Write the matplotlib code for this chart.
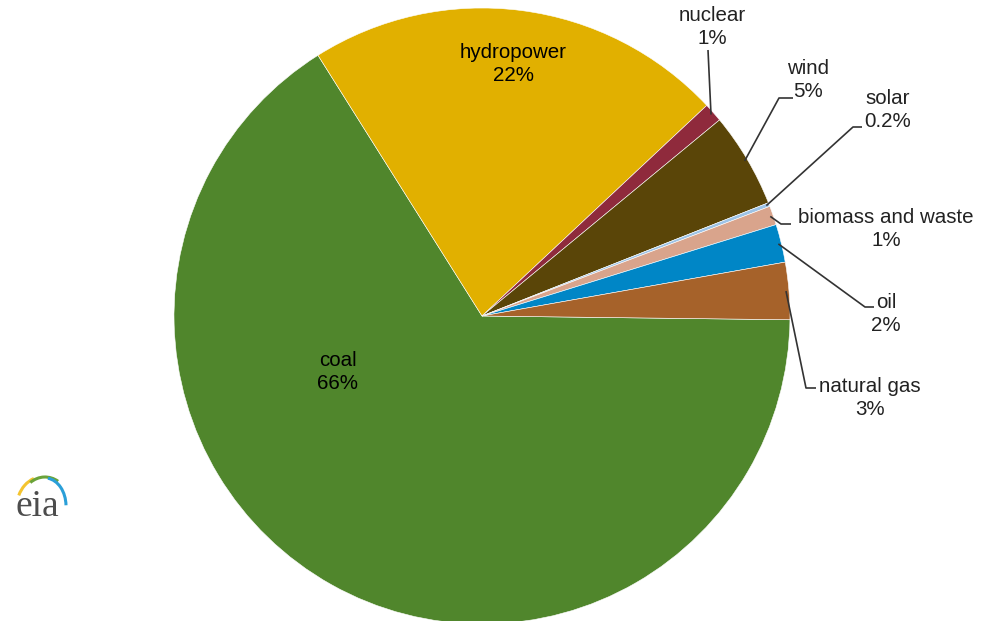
import numpy as np
import matplotlib
matplotlib.use('Agg')
import matplotlib.pyplot as plt
from matplotlib.patches import Arc

# data
sources = ["coal", "hydropower", "nuclear", "wind", "solar",
           "biomass and waste", "oil", "natural gas"]
shares = [66, 22, 1, 5, 0.2, 1, 2, 3]
share_labels = ["66%", "22%", "1%", "5%", "0.2%", "1%", "2%", "3%"]
colors = ["#50862c", "#e1b000", "#8f2a3c", "#5a4508", "#9dc3e6",
          "#d9a48c", "#0086c6", "#a6622a"]

W, H = 984, 621
plt.rcParams['font.family'] = ['Liberation Sans', 'DejaVu Sans']
fig = plt.figure(figsize=(W / 100, H / 100), dpi=100)
ax = fig.add_axes([0, 0, 1, 1])

cx, cy, R = 482, H - 316, 308
wedges, _ = ax.pie(shares, colors=colors, startangle=-0.7, counterclock=False,
                   center=(cx, cy), radius=R,
                   wedgeprops=dict(edgecolor="white", linewidth=0.4))
ax.set_xlim(0, W)
ax.set_ylim(0, H)
ax.set_aspect('equal')
ax.axis('off')

fs = 14.8
ls = 1.3
# labels inside
inside = {"coal": (338, 372), "hydropower": (513, 64)}
for name, (x, y) in inside.items():
    i = sources.index(name)
    ax.text(x, H - y, name + "\n" + share_labels[i], ha="center", va="center",
            fontsize=fs, color="black", linespacing=ls)

# labels outside: text centre, elbow point (pixel coords from top)
outside = {
    "nuclear": ((712, 27), [(708, 50)]),
    "wind": ((808, 80), [(779, 98), (793, 98)]),
    "solar": ((888, 110), [(853, 127), (862, 127)]),
    "biomass and waste": ((886, 229), [(781, 224), (791, 224)]),
    "oil": ((886, 314), [(865, 307), (874, 307)]),
    "natural gas": ((870, 398), [(806, 388), (816, 388)]),
}
for name, ((tx, ty), elbow) in outside.items():
    i = sources.index(name)
    w = wedges[i]
    mid = np.deg2rad((w.theta1 + w.theta2) / 2)
    r0 = R - 3
    xs = [cx + r0 * np.cos(mid)] + [p[0] for p in elbow]
    ys = [cy + r0 * np.sin(mid)] + [H - p[1] for p in elbow]
    ax.plot(xs, ys, color="#333333", lw=1.2, solid_capstyle="butt")
    ax.text(tx, H - ty, name + "\n" + share_labels[i], ha="center", va="center",
            fontsize=fs, color="#222222", linespacing=ls)

# eia logo
ax.text(37, H - 507, "eia", ha="center", va="center", fontsize=27,
        family="Liberation Serif", color="#4d4d4d")
lx, ly = 45, H - 506
for col, (w, h, t1, t2) in zip(["#f4c430", "#6aa339", "#2a9fd8"],
                              [(56, 60, 112, 158), (50, 58, 62, 122), (42, 56, 2, 84)]):
    ax.add_patch(Arc((lx, ly), w, h, theta1=t1, theta2=t2, color=col, lw=2.2))

fig.savefig("out.png", dpi=100)
